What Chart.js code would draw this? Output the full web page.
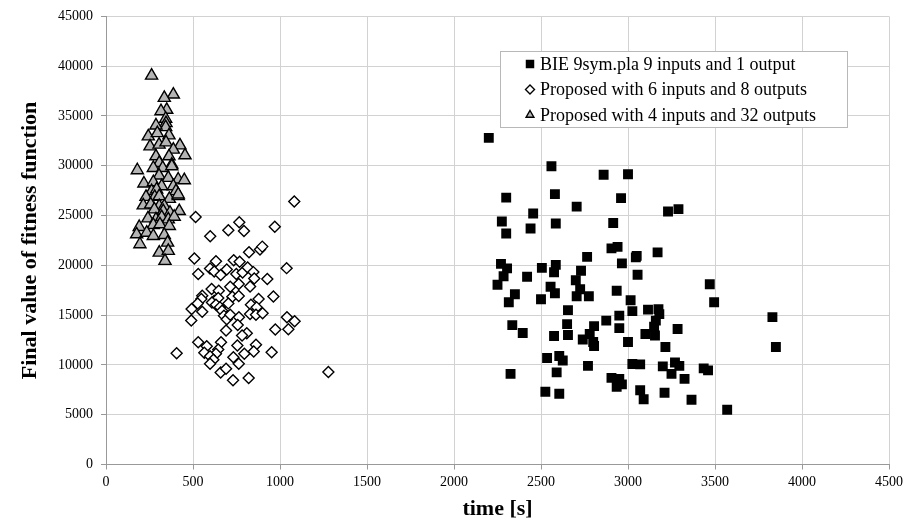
<!DOCTYPE html>
<html>
<head>
<meta charset="utf-8">
<script src="https://cdn.jsdelivr.net/npm/chart.js@4.4.1/dist/chart.umd.min.js"></script>
<style>
  html, body { margin: 0; padding: 0; background: #fff; }
</style>
</head>
<body>
<canvas id="fitnessChart" width="910" height="531"></canvas>
<script>
  // series names (legend order)
  const seriesNames = [
    'BIE 9sym.pla 9 inputs and 1 output',
    'Proposed with 6 inputs and 8 outputs',
    'Proposed with 4 inputs and 32 outputs'
  ];

  // axis ticks
  const xTicks = [0, 500, 1000, 1500, 2000, 2500, 3000, 3500, 4000, 4500];
  const yTicks = [0, 5000, 10000, 15000, 20000, 25000, 30000, 35000, 40000, 45000];

  // BIE 9sym.pla (squares)
  const bieTime = [2200,2560,2860,3000,2300,2580,2960,2705,3230,3290,2455,2275,2440,2585,2300,2915,2905,2940,2765,3170,
    3045,3050,2965,2270,2305,2505,2585,2575,2730,3055,2285,2250,2420,2700,2555,2580,2935,2725,2705,2775,
    2350,2315,2500,3015,2655,3025,3115,3175,3180,3160,3150,2875,2950,2950,2650,2335,2395,2575,2655,2805,
    2780,2740,2805,2800,3000,3100,3155,3215,3285,3470,3495,3830,3850,2535,2605,2625,2770,3025,3070,3200,
    3270,3295,3250,3325,3435,3460,2325,2590,2905,2950,2935,2965,2525,2605,3070,3090,3210,3365,3570];
  const bieFitness = [32800,29950,29100,29150,26800,27150,26750,25900,25400,25650,25200,24400,23700,24200,23200,24250,21700,21850,20850,21300,
    20800,20950,20200,20150,19700,19750,20050,19300,19450,19050,18900,18050,18850,18500,17850,17200,17450,17600,16900,16900,
    17100,16300,16600,16500,15500,15400,15550,15600,15100,14450,13850,14450,14950,13700,14100,14000,13200,12900,13000,13900,
    13100,12550,11900,12300,12300,13100,12950,11800,13600,18100,16300,14800,11800,10700,10900,10450,9900,10100,10050,9850,
    10250,9900,9100,8600,9650,9450,9100,9250,8700,8600,7800,8050,7300,7100,7450,6550,7200,6500,5500];

  // Proposed 6 inputs / 8 outputs (diamonds)
  const p6Time = [1082,515,766,703,793,970,599,822,885,898,508,632,734,768,1038,530,598,622,659,694,
    749,785,814,847,852,927,763,828,607,648,714,726,763,553,548,527,622,645,877,962,
    492,553,609,632,655,667,678,694,703,714,764,833,828,866,862,900,1040,1084,1048,490,
    690,757,809,782,973,530,579,661,645,632,755,862,849,795,732,565,598,952,406,617,
    598,763,659,690,730,820,1278];
  const p6Fitness = [26420,24850,24320,23520,23450,23880,22920,21320,21580,21880,20680,20420,20520,20350,19720,19120,19680,19380,19020,19580,
    19120,19280,19780,19320,18680,18620,18120,17880,17620,17450,17850,16850,16920,16950,16620,16180,16450,16720,16620,16880,
    15620,15350,16280,16050,15780,15450,14950,14580,16180,15050,14780,16050,15120,15780,15050,15180,14780,14380,13580,14450,
    13450,14020,13180,12950,13550,12280,11880,12280,11550,11120,11950,12020,11350,11120,10780,11220,10880,11280,11180,10520,
    10120,10120,9250,9620,8450,8680,9280];

  // Proposed 4 inputs / 32 outputs (triangles)
  const p4Time = [262,387,335,349,316,343,345,343,287,243,295,362,253,305,345,425,387,454,287,362,
    306,378,180,272,326,378,305,358,415,450,218,272,320,387,402,262,291,230,280,306,
    364,415,214,257,306,335,278,329,368,421,241,287,320,358,392,191,272,310,364,176,
    234,272,335,195,354,306,358,339,415];
  const p4Fitness = [39050,37150,36820,35620,35480,34720,34280,33880,34050,32950,33280,33050,31950,32120,32350,32050,31620,31050,30950,30950,
    30280,30120,29550,29780,29780,29950,29020,28780,28620,28550,28220,28350,27950,27950,27450,27450,27620,26880,26880,26950,
    26680,26950,26020,26120,25950,25950,25620,25450,25280,25450,24720,24620,24850,24620,24880,23850,24050,24120,23950,23120,
    23280,22950,23050,22120,22280,21280,21450,20450,27120];

  const toPoints = (xs, ys) => xs.map((x, i) => ({ x: x, y: ys[i] }));
  const serif = '"Liberation Serif", "Times New Roman", serif';

  // legend box drawn inside the plot, top right
  const innerLegend = {
    id: 'innerLegend',
    afterDatasetsDraw(chart) {
      const ctx = chart.ctx;
      const bx = 500, by = 51, bw = 347, bh = 76;
      ctx.save();
      ctx.fillStyle = '#fff';
      ctx.fillRect(bx, by, bw, bh);
      ctx.strokeStyle = '#b8b8b8';
      ctx.lineWidth = 1;
      ctx.strokeRect(bx + 0.5, by + 0.5, bw, bh);
      chart.data.datasets.forEach((ds, i) => {
        const cy = 64 + i * 25.5;
        ctx.fillStyle = ds.backgroundColor;
        ctx.strokeStyle = ds.borderColor;
        ctx.lineWidth = ds.borderWidth;
        Chart.helpers.drawPoint(ctx, {
          pointStyle: ds.pointStyle,
          radius: ds.pointStyle === 'rect' ? 6 : 4.5,
          borderWidth: ds.borderWidth
        }, 530, cy);
        ctx.fillStyle = '#000';
        ctx.font = '18px ' + serif;
        ctx.textBaseline = 'middle';
        ctx.textAlign = 'left';
        ctx.fillText(ds.label, 540, cy + 1);
      });
      ctx.restore();
    }
  };

  const ctx = document.getElementById('fitnessChart').getContext('2d');
  const fitnessChart = new Chart(ctx, {
    type: 'scatter',
    data: {
      datasets: [{
        label: seriesNames[0],
        data: toPoints(bieTime, bieFitness),
        pointStyle: 'rect',
        pointRadius: 7,
        backgroundColor: '#000',
        borderColor: '#000',
        borderWidth: 0
      }, {
        label: seriesNames[1],
        data: toPoints(p6Time, p6Fitness),
        pointStyle: 'rectRot',
        pointRadius: 5.5,
        backgroundColor: '#fff',
        borderColor: '#000',
        borderWidth: 1.4
      }, {
        label: seriesNames[2],
        data: toPoints(p4Time, p4Fitness),
        pointStyle: 'triangle',
        pointRadius: 7,
        backgroundColor: '#b4b4b4',
        borderColor: '#000',
        borderWidth: 1.4
      }]
    },
    options: {
      responsive: false,
      animation: false,
      events: [],
      layout: { padding: { top: 14, right: 21, left: 0, bottom: 0 } },
      plugins: {
        legend: { display: false },
        tooltip: { enabled: false }
      },
      scales: {
        x: {
          type: 'linear',
          min: xTicks[0],
          max: xTicks[xTicks.length - 1],
          afterFit: (scale) => { scale.height = 66.5; },
          afterBuildTicks: (scale) => { scale.ticks = xTicks.map(v => ({ value: v })); },
          grid: { color: '#d2d2d2', tickLength: 5, tickColor: '#999' },
          border: { color: '#999' },
          ticks: {
            color: '#000',
            padding: 4,
            maxRotation: 0,
            font: { family: serif, size: 14 },
            callback: (v) => String(v)
          },
          title: {
            display: true,
            text: 'time [s]',
            color: '#000',
            padding: { top: 0, bottom: 8 },
            font: { family: serif, size: 22, weight: 'bold' }
          }
        },
        y: {
          min: yTicks[0],
          max: yTicks[yTicks.length - 1],
          afterFit: (scale) => { scale.width = 106; },
          afterBuildTicks: (scale) => { scale.ticks = yTicks.map(v => ({ value: v })); },
          grid: { color: '#d2d2d2', tickLength: 5, tickColor: '#999' },
          border: { color: '#999' },
          ticks: {
            color: '#000',
            padding: 8,
            font: { family: serif, size: 14 },
            callback: (v) => String(v)
          },
          title: {
            display: true,
            text: 'Final value of fitness function',
            color: '#000',
            padding: { top: 17, bottom: 0 },
            font: { family: serif, size: 22, weight: 'bold' }
          }
        }
      }
    },
    plugins: [innerLegend]
  });
</script>
</body>
</html>
